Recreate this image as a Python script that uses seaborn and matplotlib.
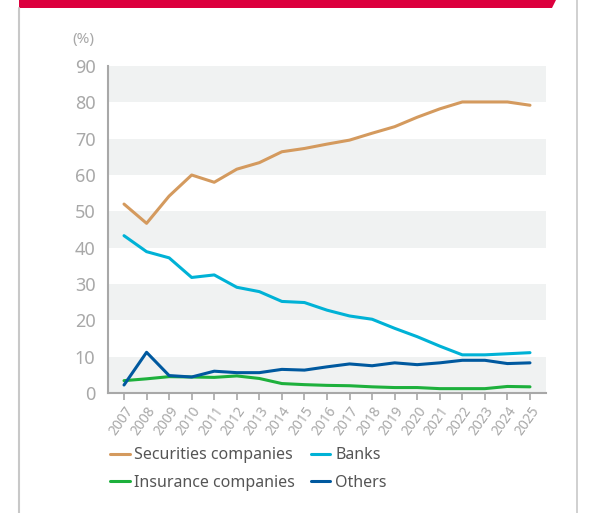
import matplotlib
matplotlib.use("Agg")
import matplotlib.pyplot as plt
import seaborn as sns
import pandas as pd
from matplotlib.patches import Polygon
from matplotlib.lines import Line2D

years = list(range(2007, 2026))
securities = [52.0, 46.7, 54.2, 60.0, 58.0, 61.6, 63.4, 66.4, 67.3, 68.5, 69.6, 71.5,
              73.3, 75.9, 78.2, 80.1, 80.1, 80.1, 79.2]
banks = [43.3, 38.9, 37.2, 31.8, 32.5, 29.1, 27.9, 25.2, 24.9, 22.8, 21.2, 20.3,
         17.8, 15.5, 12.9, 10.5, 10.5, 10.8, 11.1]
insurance = [3.4, 3.9, 4.5, 4.4, 4.3, 4.7, 4.0, 2.6, 2.3, 2.1, 2.0, 1.7,
             1.5, 1.5, 1.2, 1.2, 1.2, 1.8, 1.7]
others = [2.2, 11.2, 4.8, 4.4, 6.0, 5.6, 5.6, 6.5, 6.3, 7.2, 8.0, 7.5,
          8.3, 7.8, 8.3, 9.0, 9.0, 8.1, 8.3]

series_names = ["Securities companies", "Banks", "Insurance companies", "Others"]
colors = ["#D49A5E", "#00B2D6", "#1DB03C", "#00599F"]
y_ticks = [0, 10, 20, 30, 40, 50, 60, 70, 80, 90]

df = pd.DataFrame({
    "year": years * 4,
    "value": securities + banks + insurance + others,
    "series": sum([[n] * len(years) for n in series_names], []),
})

sns.set_theme(style="white")
plt.rcParams["font.family"] = ["Noto Sans", "DejaVu Sans"]

W, H = 592, 513
fig = plt.figure(figsize=(W / 100, H / 100), dpi=100)

def fx(px):
    return px / W

def fy(py):
    return 1 - py / H

# page frame and red header strip
fig.add_artist(Line2D([fx(19.5), fx(19.5)], [fy(8), fy(513)], color="#C8C8C8", lw=1.5))
fig.add_artist(Line2D([fx(577), fx(577)], [fy(0), fy(513)], color="#C8C8C8", lw=1.2))
fig.add_artist(Polygon([(fx(19), fy(0)), (fx(556), fy(0)), (fx(552), fy(8)), (fx(19), fy(8))],
                       closed=True, color="#DC003E", transform=fig.transFigure, lw=0))

ax = fig.add_axes([fx(108), fy(393), fx(546) - fx(108), fy(66) - fy(393)])

# alternating grey bands
for lo in range(0, 90, 20):
    ax.axhspan(lo, lo + 10, color="#F0F2F2", lw=0, zorder=0)

sns.lineplot(data=df, x="year", y="value", hue="series", hue_order=series_names,
             palette=colors, linewidth=2.2, ax=ax, legend=False, zorder=3)

ax.set_xlim(2006.29, 2025.71)
ax.set_ylim(0, 90)
ax.set_yticks(y_ticks)
ax.set_yticklabels([str(v) for v in y_ticks], fontsize=13, color="#A8A8A8")
ax.set_xticks(years)
ax.set_xticklabels([str(y) for y in years], rotation=55, ha="right", va="top",
                   rotation_mode="anchor", fontsize=10, color="#A8A8A8")
ax.tick_params(axis="x", length=5, width=1.2, color="#A8A8A8", direction="out", pad=3, bottom=True)
ax.tick_params(axis="y", length=0, pad=9)
ax.set_xlabel("")
ax.set_ylabel("")
for s in ["top", "right"]:
    ax.spines[s].set_visible(False)
for s in ["left", "bottom"]:
    ax.spines[s].set_color("#A8A8A8")
    ax.spines[s].set_linewidth(1.5)
ax.set_facecolor("white")

fig.text(fx(72), fy(40), "(%)", fontsize=11, color="#A8A8A8", va="center", ha="left")

# legend, filled column by column so rows read Securities/Banks, Insurance/Others
handles = [Line2D([], [], color=c, lw=2.2) for c in colors]
order = [0, 2, 1, 3]
fig.legend([handles[i] for i in order], [series_names[i] for i in order],
           loc="upper left", bbox_to_anchor=(fx(96), fy(433)), ncol=2,
           frameon=False, fontsize=11.5, handlelength=1.2, handletextpad=0.3,
           columnspacing=1.0, labelspacing=0.7, labelcolor="#555555")

fig.savefig("out.png", dpi=100)
